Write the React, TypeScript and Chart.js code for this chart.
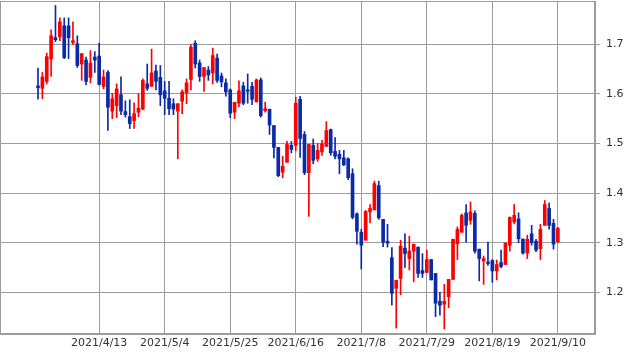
import React, { useEffect, useRef } from 'react';
import { Chart, registerables } from 'chart.js';
Chart.register(...registerables);

const dates = [
  '2021/3/23','2021/3/24','2021/3/25','2021/3/26','2021/3/29','2021/3/30','2021/3/31','2021/4/1','2021/4/5','2021/4/6',
  '2021/4/7','2021/4/8','2021/4/9','2021/4/12','2021/4/13','2021/4/14','2021/4/15','2021/4/16','2021/4/19','2021/4/20',
  '2021/4/21','2021/4/22','2021/4/23','2021/4/26','2021/4/27','2021/4/28','2021/4/29','2021/4/30','2021/5/3','2021/5/4',
  '2021/5/5','2021/5/6','2021/5/7','2021/5/10','2021/5/11','2021/5/12','2021/5/13','2021/5/14','2021/5/17','2021/5/18',
  '2021/5/19','2021/5/20','2021/5/21','2021/5/24','2021/5/25','2021/5/26','2021/5/27','2021/5/28','2021/6/1','2021/6/2',
  '2021/6/3','2021/6/4','2021/6/7','2021/6/8','2021/6/9','2021/6/10','2021/6/11','2021/6/14','2021/6/15','2021/6/16',
  '2021/6/17','2021/6/18','2021/6/21','2021/6/22','2021/6/23','2021/6/24','2021/6/25','2021/6/28','2021/6/29','2021/6/30',
  '2021/7/1','2021/7/2','2021/7/6','2021/7/7','2021/7/8','2021/7/9','2021/7/12','2021/7/13','2021/7/14','2021/7/15',
  '2021/7/16','2021/7/19','2021/7/20','2021/7/21','2021/7/22','2021/7/23','2021/7/26','2021/7/27','2021/7/28','2021/7/29',
  '2021/7/30','2021/8/2','2021/8/3','2021/8/4','2021/8/5','2021/8/6','2021/8/9','2021/8/10','2021/8/11','2021/8/12',
  '2021/8/13','2021/8/16','2021/8/17','2021/8/18','2021/8/19','2021/8/20','2021/8/23','2021/8/24','2021/8/25','2021/8/26',
  '2021/8/27','2021/8/30','2021/8/31','2021/9/1','2021/9/2','2021/9/3','2021/9/7','2021/9/8','2021/9/9','2021/9/10',
];

const openP = [
  1.616,1.611,1.625,1.670,1.713,1.715,1.737,1.737,1.703,1.701,
  1.660,1.668,1.633,1.674,1.676,1.615,1.643,1.565,1.576,1.598,
  1.564,1.554,1.546,1.563,1.569,1.620,1.615,1.646,1.633,1.606,
  1.591,1.580,1.565,1.585,1.602,1.629,1.702,1.662,1.635,1.648,
  1.642,1.672,1.636,1.622,1.608,1.563,1.581,1.616,1.608,1.615,
  1.584,1.628,1.566,1.569,1.536,1.492,1.442,1.462,1.496,1.496,
  1.589,1.518,1.441,1.496,1.469,1.483,1.494,1.528,1.484,1.478,
  1.471,1.469,1.439,1.358,1.321,1.305,1.362,1.366,1.415,1.347,
  1.303,1.270,1.208,1.228,1.289,1.268,1.283,1.291,1.244,1.240,
  1.266,1.238,1.182,1.176,1.191,1.226,1.298,1.321,1.360,1.345,
  1.359,1.287,1.263,1.261,1.264,1.243,1.260,1.256,1.295,1.342,
  1.348,1.307,1.279,1.318,1.303,1.288,1.335,1.369,1.339,1.302,
];
const highP = [
  1.652,1.643,1.682,1.729,1.778,1.753,1.753,1.753,1.745,1.717,
  1.681,1.674,1.687,1.685,1.702,1.648,1.647,1.601,1.620,1.634,
  1.586,1.588,1.582,1.600,1.630,1.660,1.690,1.658,1.657,1.625,
  1.625,1.590,1.580,1.608,1.630,1.699,1.707,1.668,1.653,1.655,
  1.692,1.680,1.642,1.630,1.610,1.583,1.626,1.623,1.640,1.623,
  1.630,1.632,1.583,1.569,1.536,1.492,1.474,1.504,1.504,1.593,
  1.595,1.524,1.498,1.509,1.500,1.506,1.544,1.529,1.512,1.486,
  1.486,1.471,1.449,1.360,1.327,1.365,1.377,1.424,1.424,1.347,
  1.337,1.290,1.224,1.305,1.318,1.313,1.297,1.291,1.278,1.285,
  1.266,1.238,1.200,1.216,1.226,1.307,1.332,1.358,1.377,1.382,
  1.364,1.287,1.273,1.301,1.266,1.265,1.285,1.300,1.352,1.377,
  1.360,1.308,1.315,1.335,1.307,1.337,1.385,1.380,1.347,1.331,
];
const lowP = [
  1.589,1.590,1.620,1.635,1.705,1.707,1.671,1.671,1.699,1.653,
  1.627,1.618,1.622,1.643,1.618,1.610,1.526,1.550,1.552,1.558,
  1.553,1.530,1.530,1.554,1.568,1.607,1.615,1.608,1.576,1.558,
  1.558,1.558,1.469,1.560,1.580,1.608,1.652,1.625,1.605,1.627,
  1.620,1.623,1.614,1.595,1.552,1.550,1.574,1.578,1.581,1.578,
  1.583,1.553,1.563,1.518,1.471,1.433,1.431,1.462,1.481,1.485,
  1.472,1.437,1.353,1.459,1.464,1.476,1.494,1.476,1.469,1.439,
  1.455,1.427,1.348,1.297,1.247,1.305,1.340,1.366,1.347,1.292,
  1.291,1.174,1.128,1.195,1.250,1.245,1.221,1.230,1.230,1.240,
  1.225,1.151,1.154,1.126,1.169,1.226,1.266,1.321,1.301,1.337,
  1.279,1.223,1.216,1.254,1.220,1.225,1.249,1.256,1.283,1.338,
  1.300,1.277,1.268,1.295,1.282,1.266,1.335,1.327,1.287,1.300,
];
const closeP = [
  1.612,1.634,1.675,1.717,1.709,1.745,1.673,1.713,1.707,1.657,
  1.681,1.625,1.662,1.668,1.619,1.634,1.573,1.590,1.610,1.565,
  1.558,1.540,1.560,1.571,1.627,1.611,1.642,1.625,1.598,1.591,
  1.570,1.569,1.580,1.604,1.622,1.694,1.660,1.635,1.653,1.638,
  1.677,1.627,1.624,1.604,1.561,1.583,1.606,1.581,1.605,1.589,
  1.628,1.556,1.570,1.537,1.492,1.435,1.454,1.498,1.488,1.581,
  1.510,1.441,1.498,1.466,1.486,1.499,1.526,1.481,1.474,1.469,
  1.457,1.431,1.351,1.323,1.295,1.363,1.369,1.419,1.350,1.301,
  1.299,1.198,1.224,1.293,1.278,1.283,1.297,1.238,1.238,1.266,
  1.225,1.178,1.174,1.182,1.226,1.307,1.327,1.355,1.335,1.362,
  1.283,1.268,1.268,1.258,1.243,1.256,1.252,1.299,1.351,1.355,
  1.308,1.279,1.307,1.300,1.285,1.327,1.377,1.335,1.297,1.329,
];

const xTickIdx = [14, 29, 44, 59, 74, 89, 104, 119];
const yTicks = [1.2, 1.3, 1.4, 1.5, 1.6, 1.7];
const Y_MIN = 1.116;
const Y_MAX = 1.787;
const X_MIN = -8.7;
const X_MAX = 127.5;

const UP = '#ff0000';
const DOWN = '#0a2aa6';
const GRID = '#9c9c9c';
const FONT = { family: 'DejaVu Sans', size: 11 };

const noPad = (s: any) => {
  s.paddingTop = 0;
  s.paddingBottom = 0;
  s.paddingLeft = 0;
  s.paddingRight = 0;
};

export default function App() {
  const ref = useRef<HTMLCanvasElement>(null);
  useEffect(() => {
    if (!ref.current) return;
    const colors = closeP.map((c, i) => (c >= openP[i] ? UP : DOWN));
    const xPixel = (chart: any, v: number) => {
      const a = chart.chartArea;
      const xs = chart.scales.x;
      let px = xs ? Number(xs.getPixelForValue(v)) : NaN;
      if (!Number.isFinite(px) || px < a.left || px > a.right) {
        px = a.left + ((v - X_MIN) / (X_MAX - X_MIN)) * (a.right - a.left);
      }
      return px;
    };
    const frame = {
      id: 'frame',
      beforeDatasetsDraw(chart: any) {
        const { ctx, chartArea: a } = chart;
        const top = Math.round(a.top);
        const h = Math.round(a.bottom) - top;
        ctx.save();
        ctx.globalAlpha = 1;
        ctx.globalCompositeOperation = 'source-over';
        ctx.fillStyle = GRID;
        xTickIdx.forEach((v) => {
          const px = Math.floor(xPixel(chart, v));
          ctx.fillRect(px, top, 1, h);
        });
        ctx.restore();
      },
      afterDraw(chart: any) {
        const { ctx, chartArea: a } = chart;
        ctx.save();
        ctx.fillStyle = GRID;
        const l = Math.round(a.left);
        const t = Math.round(a.top);
        const r = Math.round(a.right);
        const b = Math.round(a.bottom);
        ctx.fillRect(l, t, r - l, 1);
        ctx.fillRect(l, b - 1, r - l, 1);
        ctx.fillRect(l, t, 1, b - t);
        ctx.fillRect(r - 1, t, 1, b - t);
        ctx.restore();
      },
    };
    const chart = new Chart(ref.current, {
      type: 'bar',
      data: {
        datasets: [
          {
            data: dates.map((_, i) => ({ x: i, y: [lowP[i], highP[i]] })),
            backgroundColor: colors,
            barThickness: 1,
            grouped: false,
            order: 2,
          } as any,
          {
            data: dates.map((_, i) => ({ x: i, y: [openP[i], closeP[i]] })),
            backgroundColor: colors,
            barThickness: 3,
            minBarLength: 1,
            grouped: false,
            order: 1,
          } as any,
        ],
      },
      options: {
        animation: false,
        responsive: false,
        maintainAspectRatio: false,
        layout: { padding: { top: 1, left: 0, right: 0, bottom: 0 } },
        plugins: { legend: { display: false }, tooltip: { enabled: false } },
        scales: {
          x: {
            type: 'linear',
            min: X_MIN,
            max: X_MAX,
            offset: false,
            grid: { display: false, drawTicks: false },
            border: { color: GRID },
            afterBuildTicks: (s: any) => {
              s.ticks = xTickIdx.map((v) => ({ value: v }));
            },
            afterFit: (s: any) => {
              s.height = 20;
              noPad(s);
            },
            ticks: {
              callback: (v: any) => dates[Math.round(v)] ?? '',
              font: FONT,
              color: '#333',
              padding: 3,
              maxRotation: 0,
              autoSkip: false,
            },
          },
          y: {
            position: 'right',
            min: Y_MIN,
            max: Y_MAX,
            grid: { color: GRID, tickLength: 5, offset: false },
            border: { color: GRID },
            afterBuildTicks: (s: any) => {
              s.ticks = yTicks.map((v) => ({ value: v }));
            },
            afterFit: (s: any) => {
              s.width = 45;
              noPad(s);
            },
            ticks: {
              callback: (v: any) => Number(v).toFixed(1),
              font: FONT,
              color: '#333',
              padding: 6,
            },
          },
        },
      } as any,
      plugins: [frame],
    });
    return () => chart.destroy();
  }, []);
  return (
    <div style={{ position: 'fixed', left: 0, top: 0, width: 640, height: 354, background: '#fff' }}>
      <canvas ref={ref} width={640} height={354} style={{ display: 'block' }} />
    </div>
  );
}
